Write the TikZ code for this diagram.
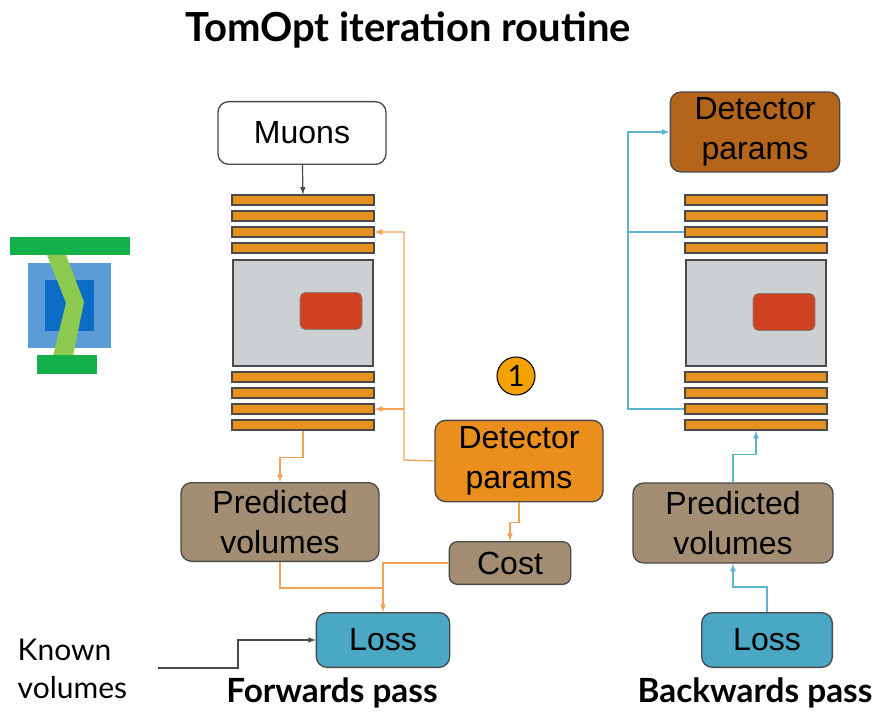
\documentclass[tikz,border=0pt]{standalone}
\usepackage{fontspec}
\setmainfont{Liberation Sans}
\newfontfamily\gill{Lato}
\usetikzlibrary{positioning}

\definecolor{layerorange}{HTML}{E8911F}
\definecolor{voxgray}{HTML}{CDD0D2}
\definecolor{blockred}{HTML}{CF4120}
\definecolor{detorange}{HTML}{EA8F1E}
\definecolor{detbrown}{HTML}{B4651A}
\definecolor{predtan}{HTML}{A38E74}
\definecolor{lossteal}{HTML}{4AA8C4}
\definecolor{fwdorange}{HTML}{F2A357}
\definecolor{bwdblue}{HTML}{5DB5CD}
\definecolor{edge}{HTML}{4A4A4A}
\definecolor{stepgold}{HTML}{F5A200}
\definecolor{logogreen}{HTML}{14B04A}
\definecolor{logolime}{HTML}{8CCB4F}
\definecolor{logoblue}{HTML}{5B9BD8}
\definecolor{logonavy}{HTML}{0A6CC4}

\tikzset{
  box/.style={draw=edge, line width=1pt, rounded corners=8pt, align=center,
    font=\fontsize{24}{30}\selectfont, inner sep=0pt},
  layer/.style={draw=edge, line width=0.9pt, fill=layerorange,
    minimum width=106.5pt, minimum height=7.5pt, inner sep=0pt},
  voxels/.style={draw=edge, line width=0.9pt, fill=voxgray,
    minimum width=105pt, minimum height=79.5pt, inner sep=0pt},
  target/.style={draw=edge!70, line width=0.6pt, fill=blockred, rounded corners=4pt,
    minimum width=46.5pt, minimum height=27.75pt, inner sep=0pt},
  fwd/.style={draw=fwdorange, line width=1pt},
  bwd/.style={draw=bwdblue, line width=1pt},
  caption/.style={font=\gill\bfseries\fontsize{25}{30}\selectfont},
}

\begin{document}
\begin{tikzpicture}[x=0.75pt, y=-0.75pt, >=latex]
    \useasboundingbox (0,0) rectangle (873,712);

    \node[font=\gill\bfseries\fontsize{30}{36}\selectfont] (title) at (408,30) {TomOpt iteration routine};

    % logo
    \fill[logogreen] (10,237) rectangle (130,255);
    \fill[logoblue] (28,263) rectangle (111,348);
    \fill[logonavy] (45,280) rectangle (94,331);
    \fill[logolime] (47,255) -- (66,255) -- (84,302) -- (73,356) -- (53,356) -- (66,303) -- cycle;
    \fill[logogreen] (37,355) rectangle (97,374);

    % forwards pass
    \node[box, fill=white, minimum width=126pt, minimum height=47pt] (muons) at (302,133) {Muons};
    \foreach \i/\y in {1/200,2/216,3/232,4/248} {
        \node[layer] (lt\i) at (303,\y) {};
    }
    \node[voxels] (volL) at (303,313) {};
    \node[target] at (331,311) {};
    \foreach \i/\y in {1/377,2/393,3/409,4/425} {
        \node[layer] (lb\i) at (303,\y) {};
    }
    \node[box, fill=detorange, minimum width=126pt, minimum height=61pt] (detL) at (519,461) {Detector\\params};
    \node[box, fill=predtan, minimum width=148.5pt, minimum height=59pt] (predL) at (280,522) {Predicted\\volumes};
    \node[box, fill=predtan, rounded corners=6pt, minimum width=91pt, minimum height=32pt] (cost) at (510,563) {Cost};
    \node[box, fill=lossteal, minimum width=100pt, minimum height=41pt] (lossL) at (383,640) {Loss};
    \node[circle, draw=black, line width=0.8pt, fill=stepgold,
          minimum size=28.5pt, inner sep=0pt, font=\gill\fontsize{22}{24}\selectfont] (step1) at (516,376) {1};
    \node[font=\gill\fontsize{22.5}{28.5}\selectfont, align=left, anchor=west] (known) at (13,669) {Known\\volumes};
    \node[caption] (fwdcap) at (332,693) {Forwards pass};

    \draw[->, edge, line width=0.9pt] (muons) -- (lt1);
    \coordinate (split) at (404,460);
    \draw[->, fwd] (detL.west) -- (split) |- (lt3.east);
    \draw[->, fwd] (split |- lb3) -- (lb3.east);
    \draw[->, fwd] (lb4.south) -- ++(0,27) -| (predL.north);
    \draw[->, fwd] (detL.south) -- ++(0,20) -| (cost.north);
    \draw[fwd] (predL.south) |- (383,588);
    \draw[->, fwd] (cost.west) -| (lossL.north);
    \coordinate (kvin) at (158,668);
    \draw[->, edge, line width=0.9pt] (kvin) -- ++(80,0) |- (lossL.west);

    % backwards pass
    \node[box, fill=detbrown, minimum width=127pt, minimum height=60pt] (detR) at (755,132) {Detector\\params};
    \foreach \i/\y in {1/200,2/216,3/232,4/248} {
        \node[layer] (rt\i) at (756,\y) {};
    }
    \node[voxels] (volR) at (756,313) {};
    \node[target] at (784,312) {};
    \foreach \i/\y in {1/377,2/393,3/409,4/425} {
        \node[layer] (rb\i) at (756,\y) {};
    }
    \node[box, fill=predtan, minimum width=150pt, minimum height=60pt] (predR) at (733,523) {Predicted\\volumes};
    \node[box, fill=lossteal, minimum width=98pt, minimum height=41pt] (lossR) at (767,640) {Loss};
    \node[caption] (bwdcap) at (755,693) {Backwards pass};

    \coordinate (gather) at (628,409);
    \draw[->, bwd] (rb3.west) -- (gather) |- (detR.west);
    \draw[bwd] (rt3.west) -- (gather |- rt3.west);
    \draw[->, bwd] (lossR.north) -- ++(0,-25) -| (predR.south);
    \draw[->, bwd] (predR.north) -- ++(0,-28) -| (rb4.south);
\end{tikzpicture}
\end{document}
